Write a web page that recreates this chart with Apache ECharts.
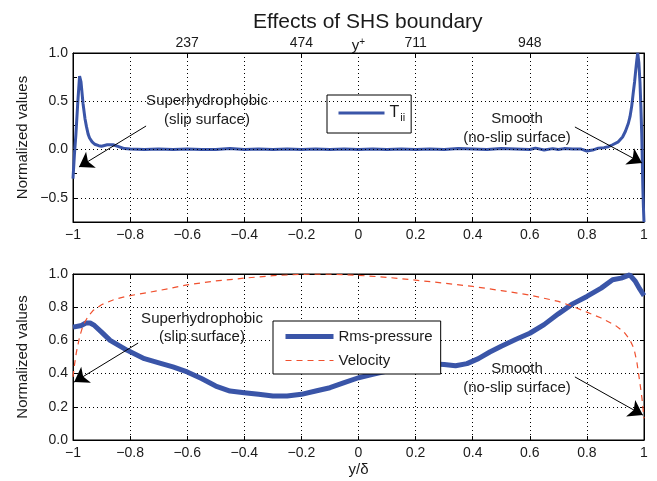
<!DOCTYPE html>
<html><head><meta charset="utf-8">
<script src="https://cdn.jsdelivr.net/npm/echarts@6/dist/echarts.min.js"></script>
<style>html,body{margin:0;padding:0;background:#fff}#c{width:657px;height:481px}</style>
</head><body><div id="c"></div>
<script>
// ---- Data ----
const titleText = 'Effects of SHS boundary';
const yPlusMax = 1185, yPlusStep = 237;

const tiiX = [-1.0,-0.995,-0.99,-0.983,-0.977,-0.972,-0.965,-0.958,-0.953,-0.947,-0.942,-0.933,-0.924,-0.91,-0.9,-0.88,-0.86,-0.84,-0.82,-0.8,
  -0.75,-0.7,-0.65,-0.6,-0.55,-0.5,-0.45,-0.4,-0.35,-0.3,-0.25,-0.2,-0.15,-0.1,-0.05,0,0.05,0.1,0.15,0.2,0.25,0.3,0.35,0.4,0.45,0.5,0.55,0.6,
  0.62,0.65,0.68,0.7,0.72,0.75,0.78,0.8,0.82,0.84,0.86,0.875,0.89,0.91,0.925,0.935,0.945,0.951,0.957,0.962,0.967,0.971,0.975,0.978,
  0.982,0.986,0.989,0.992,0.994,0.996,0.998,1.0];
const tiiY = [-0.30,-0.05,0.15,0.50,0.76,0.70,0.48,0.32,0.24,0.16,0.12,0.08,0.055,0.04,0.035,0.05,0.05,0.03,0.01,0.005,
  0.0,0.005,0.0,0.005,0.0,0.0,0.01,0.0,0.005,0.0,0.005,0.0,0.005,0.0,0.005,0.0,0.005,0.0,0.005,0.0,0.005,0.0,0.01,0.005,0.0,0.01,0.005,0.0,
  0.015,-0.005,0.01,0.0,0.01,0.005,0.005,-0.015,-0.005,0.015,0.02,0.03,0.05,0.08,0.13,0.19,0.27,0.34,0.45,0.58,0.70,0.82,0.93,1.0,
  0.90,0.69,0.45,0.17,-0.10,-0.40,-0.60,-0.75];

const rmsX = [-1,-0.97,-0.955,-0.94,-0.925,-0.9,-0.87,-0.84,-0.81,-0.78,-0.75,-0.72,-0.69,-0.65,-0.6,-0.55,-0.5,-0.45,-0.4,-0.35,-0.3,-0.25,
  -0.2,-0.15,-0.1,-0.05,0,0.05,0.1,0.15,0.2,0.25,0.3,0.34,0.38,0.42,0.46,0.5,0.55,0.6,0.65,0.7,0.75,0.8,0.85,0.89,0.92,0.95,0.97,0.985,1.0];
const rmsY = [0.68,0.69,0.705,0.705,0.69,0.65,0.60,0.57,0.54,0.515,0.49,0.475,0.46,0.44,0.41,0.37,0.325,0.295,0.285,0.275,0.265,0.265,
  0.275,0.295,0.315,0.345,0.375,0.395,0.415,0.435,0.45,0.46,0.455,0.447,0.46,0.49,0.53,0.565,0.605,0.643,0.695,0.76,0.82,0.865,0.915,0.965,0.975,0.995,0.955,0.91,0.87];

const velX = [-1,-0.995,-0.988,-0.977,-0.965,-0.947,-0.93,-0.9,-0.85,-0.8,-0.7,-0.6,-0.5,-0.4,-0.3,-0.2,-0.1,0,0.1,0.2,0.3,0.4,0.5,0.6,0.7,
  0.75,0.8,0.85,0.9,0.93,0.95,0.965,0.975,0.986,0.993,1.0];
const velY = [0.38,0.45,0.53,0.62,0.69,0.745,0.78,0.815,0.85,0.87,0.9,0.935,0.958,0.975,0.99,0.998,1.0,0.992,0.98,0.963,0.945,0.925,0.9,0.873,0.835,
  0.805,0.77,0.735,0.69,0.65,0.605,0.55,0.47,0.34,0.25,0.13];

// annotation arrows (start -> end, data coordinates)
const topArrows = [[[-0.744,0.244],[-0.979,-0.18]],[[0.758,0.234],[0.993,-0.139]]];
const botArrows = [[[-0.772,0.584],[-0.996,0.349]],[[0.758,0.38],[0.996,0.15]]];
const topGridY = [0.5, 0, -0.5];

// ---- Chart ----
const FONT = 'Liberation Sans, Arial, Helvetica, sans-serif';
const TXT = '#1a1a1a';
const BLUE = '#3a55a8';
const RED = '#f0502e';
const pairs = (xs, ys) => xs.map((x, i) => [x, ys[i]]);
const minus = s => s.replace('-', '\u2212');
function fmtX(v) {
  const r = Math.round(v * 10) / 10;
  if (r === 0) return '0';
  return minus(String(r));
}
function fmtTopY(v) {
  const r = Math.round(v * 100) / 100;
  if (Math.abs(r * 2 - Math.round(r * 2)) > 1e-6) return '';
  return minus(r.toFixed(1));
}
const dotted = { color: '#000', width: 1, type: [1, 3] };
const tick = { show: true, inside: true, length: 4, lineStyle: { color: '#000' } };
const axLine = { show: true, onZero: false, lineStyle: { color: '#000', width: 1 } };
const lbl = { color: TXT, fontSize: 14, fontFamily: FONT };

const arrowML = (arr) => ({
  silent: true, symbol: ['none', 'arrow'], symbolSize: 14,
  lineStyle: { color: '#000', width: 1, type: 'solid' },
  itemStyle: { color: '#000' },
  label: { show: false }, emphasis: { disabled: true },
  data: arr.map(a => [{ coord: a[0] }, { coord: a[1] }])
});

const chart = echarts.init(document.getElementById('c'), null, { renderer: 'canvas' });
chart.setOption({
  animation: false,
  backgroundColor: '#fff',
  textStyle: { fontFamily: FONT },
  title: { text: titleText, left: 248, top: 7, textStyle: { fontSize: 21, fontWeight: 'normal', color: TXT, fontFamily: FONT } },
  grid: [
    { left: 73, top: 53, width: 571, height: 169, show: true, borderColor: '#000', borderWidth: 1 },
    { left: 73, top: 274, width: 571, height: 166, show: true, borderColor: '#000', borderWidth: 1 }
  ],
  legend: [
    { data: [{ name: 'Tii', lineStyle: { width: 3 } }], left: 327, top: 95, orient: 'vertical', padding: [10, 6, 10, 10],
      itemWidth: 46, itemHeight: 14, backgroundColor: '#fff', borderColor: '#000', borderWidth: 1, borderRadius: 0,
      itemStyle: { opacity: 0 },
      formatter: () => '{t|T}{s|ii}',
      textStyle: { color: TXT, fontFamily: FONT, rich: { t: { fontSize: 16, fontFamily: FONT, color: TXT }, s: { fontSize: 11, fontFamily: FONT, color: TXT, padding: [9, 0, 0, 1] } } } },
    { data: [{ name: 'Rms-pressure', lineStyle: { width: 5 } }, { name: 'Velocity', lineStyle: { width: 1.2 } }],
      left: 273, top: 321, orient: 'vertical', padding: [8, 8, 6, 10],
      itemWidth: 48, itemHeight: 14, itemGap: 9, backgroundColor: '#fff', borderColor: '#000', borderWidth: 1, borderRadius: 0,
      itemStyle: { opacity: 0 },
      textStyle: { color: TXT, fontSize: 15, fontFamily: FONT } }
  ],
  xAxis: [
    { gridIndex: 0, type: 'value', min: -1, max: 1, interval: 0.2, axisLine: axLine, axisTick: tick,
      axisLabel: Object.assign({ margin: 6, formatter: fmtX }, lbl), splitLine: { show: true, lineStyle: dotted } },
    { gridIndex: 0, type: 'value', position: 'top', min: 0, max: yPlusMax, interval: yPlusStep, axisLine: axLine,
      axisTick: tick, splitLine: { show: false },
      axisLabel: Object.assign({ margin: 3, showMinLabel: false, showMaxLabel: false }, lbl),
      name: '{y|y}{p|+}', nameLocation: 'middle', nameGap: -2, nameMoveOverlap: false,
      nameTextStyle: { rich: { y: { fontSize: 15, fontFamily: FONT, color: TXT }, p: { fontSize: 10, fontFamily: FONT, color: TXT, padding: [0, 0, 8, 0] } } } },
    { gridIndex: 1, type: 'value', min: -1, max: 1, interval: 0.2, axisLine: axLine, axisTick: tick,
      axisLabel: Object.assign({ margin: 6, formatter: fmtX }, lbl), splitLine: { show: true, lineStyle: dotted },
      name: 'y/\u03b4', nameLocation: 'middle', nameGap: 22, nameMoveOverlap: false, nameTextStyle: { fontSize: 15, color: TXT, fontFamily: FONT } },
    { gridIndex: 1, type: 'value', position: 'top', min: -1, max: 1, interval: 0.2, axisLine: axLine, axisTick: tick,
      axisLabel: { show: false }, splitLine: { show: false } }
  ],
  yAxis: [
    { gridIndex: 0, type: 'value', min: -0.75, max: 1, interval: 0.25, axisLine: axLine, axisTick: tick,
      axisLabel: Object.assign({ margin: 5, formatter: fmtTopY }, lbl), splitLine: { show: false },
      name: 'Normalized values', nameLocation: 'middle', nameGap: 43, nameMoveOverlap: false, nameTextStyle: { fontSize: 15, color: TXT, fontFamily: FONT } },
    { gridIndex: 0, type: 'value', position: 'right', min: -0.75, max: 1, interval: 0.25, axisLine: axLine, axisTick: tick,
      axisLabel: { show: false }, splitLine: { show: false } },
    { gridIndex: 1, type: 'value', min: 0, max: 1, interval: 0.2, axisLine: axLine, axisTick: tick,
      axisLabel: Object.assign({ margin: 5, formatter: v => v.toFixed(1) }, lbl), splitLine: { show: true, lineStyle: dotted },
      name: 'Normalized values', nameLocation: 'middle', nameGap: 43, nameMoveOverlap: false, nameTextStyle: { fontSize: 15, color: TXT, fontFamily: FONT } },
    { gridIndex: 1, type: 'value', position: 'right', min: 0, max: 1, interval: 0.2, axisLine: axLine, axisTick: tick,
      axisLabel: { show: false }, splitLine: { show: false } }
  ],
  series: [
    { type: 'line', xAxisIndex: 0, yAxisIndex: 0, data: [], z: 1, silent: true,
      markLine: { silent: true, symbol: ['none', 'none'], lineStyle: dotted, label: { show: false },
        data: topGridY.map(v => ({ yAxis: v })) } },
    { name: 'Tii', type: 'line', xAxisIndex: 0, yAxisIndex: 0, data: pairs(tiiX, tiiY), symbol: 'none', z: 3,
      lineStyle: { color: BLUE, width: 3 }, itemStyle: { color: BLUE } },
    { type: 'line', xAxisIndex: 0, yAxisIndex: 0, data: [], z: 5, markLine: arrowML(topArrows) },
    { name: 'Rms-pressure', type: 'line', xAxisIndex: 2, yAxisIndex: 2, data: pairs(rmsX, rmsY), symbol: 'none', z: 3,
      lineStyle: { color: BLUE, width: 5 }, itemStyle: { color: BLUE } },
    { name: 'Velocity', type: 'line', xAxisIndex: 2, yAxisIndex: 2, data: pairs(velX, velY), symbol: 'none', z: 3,
      lineStyle: { color: RED, width: 1.2, type: [6, 5] }, itemStyle: { color: RED } },
    { type: 'line', xAxisIndex: 2, yAxisIndex: 2, data: [], z: 5, markLine: arrowML(botArrows) }
  ],
  graphic: [
    { type: 'text', x: 207, y: 110, z: 10, style: { text: 'Superhydrophobic\n(slip surface)', fill: TXT, font: '15px ' + FONT, align: 'center', verticalAlign: 'middle', lineHeight: 19 } },
    { type: 'text', x: 517, y: 128, z: 10, style: { text: 'Smooth\n(no-slip surface)', fill: TXT, font: '15px ' + FONT, align: 'center', verticalAlign: 'middle', lineHeight: 19 } },
    { type: 'text', x: 202, y: 328, z: 10, style: { text: 'Superhydrophobic\n(slip surface)', fill: TXT, font: '15px ' + FONT, align: 'center', verticalAlign: 'middle', lineHeight: 18 } },
    { type: 'text', x: 517, y: 378, z: 10, style: { text: 'Smooth\n(no-slip surface)', fill: TXT, font: '15px ' + FONT, align: 'center', verticalAlign: 'middle', lineHeight: 19 } }
  ]
});
</script>
</body></html>
